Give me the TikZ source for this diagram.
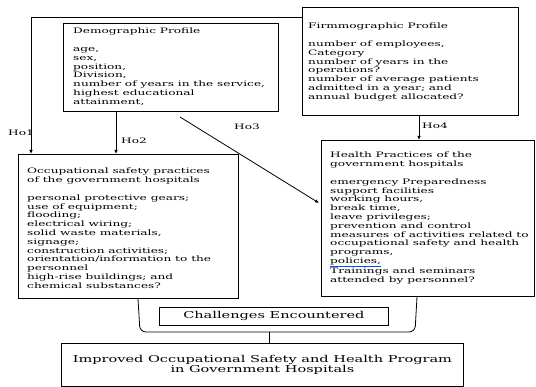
\documentclass[tikz,border=0pt]{standalone}
\usepackage{fontspec}
\setmainfont{DejaVu Serif}[FakeStretch=1.53]
\newfontfamily\smallfam{DejaVu Serif}[FakeStretch=1.62]
\usetikzlibrary{arrows.meta}
\begin{document}
\begin{tikzpicture}[x=1pt,y=-1pt,
  box/.style={draw, line width=0.8pt, inner sep=0pt, anchor=north west},
  txt/.style={inner sep=0pt, anchor=north west, align=left, font=\smallfam\fontsize{7.5}{8.8}\selectfont},
  big/.style={font=\fontsize{9.5}{10}\selectfont, align=center},
  lab/.style={inner sep=0pt, font=\smallfam\fontsize{7.5}{8.8}\selectfont},
  arr/.style={line width=0.8pt, -{Latex[length=4pt,width=3.5pt]}},
  ln/.style={line width=0.8pt}]
\useasboundingbox (0,0) rectangle (536,387);

% boxes
\node[box, minimum width=215pt, minimum height=88pt] (demo) at (63,23) {};
\node[box, minimum width=216pt, minimum height=108pt] (firm) at (302,7) {};
\node[box, minimum width=220pt, minimum height=144pt] (occ) at (18,154) {};
\node[box, minimum width=213pt, minimum height=156pt] (health) at (321,140) {};
\node[box, big, minimum width=229pt, minimum height=18pt] (chal) at (159,307) {Challenges Encountered};
\node[box, big, minimum width=402pt, minimum height=43pt] (imp) at (61,343) {Improved Occupational Safety and Health Program\\in Government Hospitals};

% texts
\node[txt] (demoT) at (73,28) {Demographic Profile\\ \\age,\\sex,\\position,\\Division,\\number of years in the service,\\highest educational\\attainment,};
\node[txt] (firmT) at (308,23) {Firmmographic Profile\\ \\number of employees,\\Category\\number of years in the\\operations?\\number of average patients\\admitted in a year; and\\annual budget allocated?};
\node[txt] (occT) at (27,168) {Occupational safety practices\\of the government hospitals\\ \\personal protective gears;\\use of equipment;\\flooding;\\electrical wiring;\\solid waste materials,\\signage;\\construction activities;\\orientation/information to the\\personnel\\high-rise buildings; and\\chemical substances?};
\node[txt] (healthT) at (330,152) {Health Practices of the\\government hospitals\\ \\emergency Preparedness\\support facilities\\working hours,\\break time,\\leave privileges;\\prevention and control\\measures of activities related to\\occupational safety and health\\programs,\\{\color{blue!70!cyan}\underline{{\color{black}policies,}}}\\Trainings and seminars\\attended by personnel?};

% connectors
\coordinate (h1) at (31,17);
\coordinate (h2) at (116,0);
\coordinate (h3) at (180,117);
\coordinate (h3e) at (319,203);
\coordinate (h4) at (419,0);
\draw[arr] (h1 -| firm.west) -- (h1) -- (h1 |- occ.north);
\draw[arr] (h2 |- demo.south) -- (h2 |- occ.north);
\draw[arr] (h3) -- (h3e);
\draw[arr] (h4 |- firm.south) -- (h4 |- health.north);

% bracket
\coordinate (bl) at (138,0);
\coordinate (br) at (417,0);
\coordinate (bm) at (269,332);
\draw[ln, rounded corners=6pt] (bl |- occ.south) -- (140,332) -- (415,332) -- (br |- health.south);
\draw[ln] (bm) -- (bm |- imp.north);

% labels
\node[lab] (l1) at (21,133) {Ho1};
\node[lab] (l2) at (134,141) {Ho2};
\node[lab] (l3) at (247,127) {Ho3};
\node[lab] (l4) at (435,126) {Ho4};
\end{tikzpicture}
\end{document}
